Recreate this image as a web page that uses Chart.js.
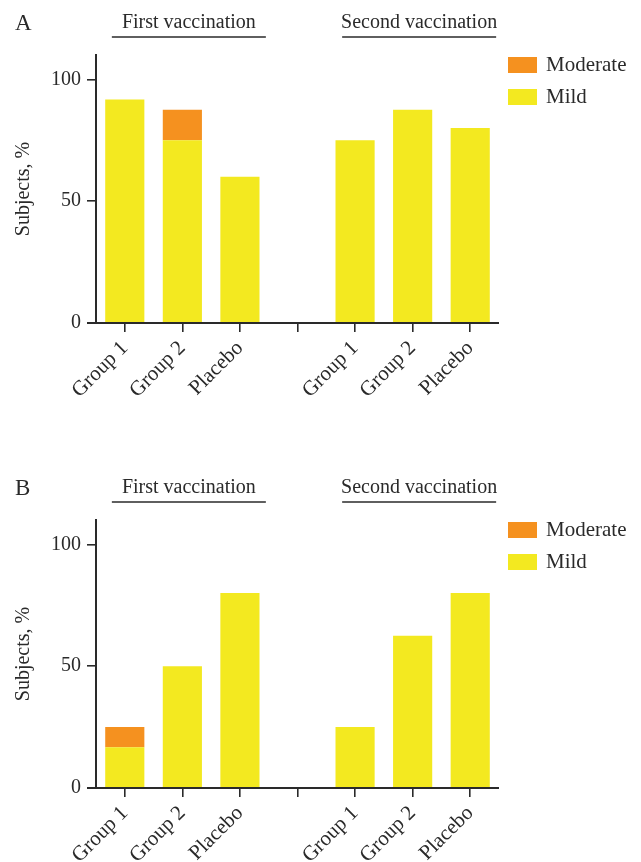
<!DOCTYPE html>
<html>
<head>
<meta charset="utf-8">
<script src="https://cdn.jsdelivr.net/npm/chart.js@4.4.1/dist/chart.umd.min.js"></script>
<style>
  html, body { margin: 0; padding: 0; background: #fff; overflow: hidden; }
  #wrap { position: relative; width: 641px; height: 862px; }
  canvas { position: absolute; left: 0; }
</style>
</head>
<body>
<div id="wrap">
  <canvas id="panelA" width="641" height="465" style="top:0"></canvas>
  <canvas id="panelB" width="641" height="397" style="top:465px"></canvas>
</div>
<script>
// Categories along the x axis (empty slot separates the two vaccinations)
const categories = ['Group 1', 'Group 2', 'Placebo', '', 'Group 1', 'Group 2', 'Placebo'];
const phases = ['First vaccination', 'Second vaccination'];
const yTicks = [0, 50, 100];
const yMax = 110;

// Panel A: percentage of subjects by severity
const mildA     = [91.7, 75, 60, null, 75, 87.5, 80];
const moderateA = [null, 12.5, null, null, null, null, null];

// Panel B: percentage of subjects by severity
const mildB     = [16.7, 50, 80, null, 25, 62.5, 80];
const moderateB = [8.3, null, null, null, null, null, null];

const MILD = '#F3E920';
const MODERATE = '#F5911F';
const INK = '#2a2a2a';
const FONT = "'Liberation Serif', 'DejaVu Serif', serif";

// Extra drawing: panel letter, phase headings, extended x axis line, legend
const decor = {
  id: 'decor',
  afterDraw(chart, args, opts) {
    const { ctx, chartArea, scales } = chart;
    const x = scales.x;
    ctx.save();
    ctx.fillStyle = INK;
    ctx.strokeStyle = INK;

    // x axis line, running slightly past the y axis
    ctx.lineWidth = 2;
    ctx.beginPath();
    ctx.moveTo(chartArea.left - 9, chartArea.bottom);
    ctx.lineTo(chartArea.right, chartArea.bottom);
    ctx.stroke();

    // panel letter
    ctx.font = '23px ' + FONT;
    ctx.textAlign = 'left';
    ctx.textBaseline = 'alphabetic';
    ctx.fillText(opts.letter, 15, 30);

    // phase headings with underline
    ctx.font = '20px ' + FONT;
    ctx.textAlign = 'center';
    const groups = [[0, 2], [4, 6]];
    groups.forEach((g, i) => {
      const cx = (x.getPixelForValue(g[0]) + x.getPixelForValue(g[1])) / 2 + 6.5;
      ctx.fillText(phases[i], cx, 28);
      ctx.lineWidth = 1.6;
      ctx.beginPath();
      ctx.moveTo(cx - 77, 37);
      ctx.lineTo(cx + 77, 37);
      ctx.stroke();
    });

    // legend, top series first
    ctx.font = '21px ' + FONT;
    ctx.textAlign = 'left';
    ctx.textBaseline = 'middle';
    const ds = chart.data.datasets.slice().reverse();
    ds.forEach((d, i) => {
      const top = chartArea.top + 2 + i * 32;
      ctx.fillStyle = d.backgroundColor;
      ctx.fillRect(508, top, 29, 16);
      ctx.fillStyle = INK;
      ctx.fillText(d.label, 546, top + 8);
    });
    ctx.restore();
  }
};

function makePanel(id, letter, mild, moderate) {
  const canvas = document.getElementById(id);
  const axisBottom = 323;
  return new Chart(canvas, {
    type: 'bar',
    data: {
      labels: categories,
      datasets: [
        { label: 'Mild', data: mild, backgroundColor: MILD },
        { label: 'Moderate', data: moderate, backgroundColor: MODERATE }
      ]
    },
    options: {
      responsive: false,
      animation: false,
      devicePixelRatio: 1,
      layout: { padding: { left: 0, right: 142, top: 55, bottom: 0 } },
      datasets: { bar: { barPercentage: 0.68, categoryPercentage: 1, borderWidth: 0 } },
      plugins: {
        legend: { display: false },
        tooltip: { enabled: false },
        decor: { letter }
      },
      scales: {
        x: {
          stacked: true,
          afterFit(s) { s.height = canvas.height - axisBottom; },
          border: { display: false },
          grid: { offset: false, drawOnChartArea: false, drawTicks: true, tickLength: 9, color: INK, lineWidth: 1.6 },
          ticks: { color: INK, font: { family: FONT, size: 21 }, minRotation: 45, maxRotation: 45, padding: 4, autoSkip: false }
        },
        y: {
          stacked: true,
          min: 0,
          max: yMax,
          afterFit(s) { s.width = 96; },
          afterBuildTicks(s) { s.ticks = yTicks.map(v => ({ value: v })); },
          border: { display: true, color: INK, width: 2 },
          grid: { drawOnChartArea: false, drawTicks: true, tickLength: 9, color: INK, lineWidth: 1.6 },
          ticks: { color: INK, font: { family: FONT, size: 20 }, padding: 6 },
          title: { display: true, text: 'Subjects, %', color: INK, font: { family: FONT, size: 20 }, padding: { top: 12, bottom: 0 } }
        }
      }
    },
    plugins: [decor]
  });
}

makePanel('panelA', 'A', mildA, moderateA);
makePanel('panelB', 'B', mildB, moderateB);
</script>
</body>
</html>
